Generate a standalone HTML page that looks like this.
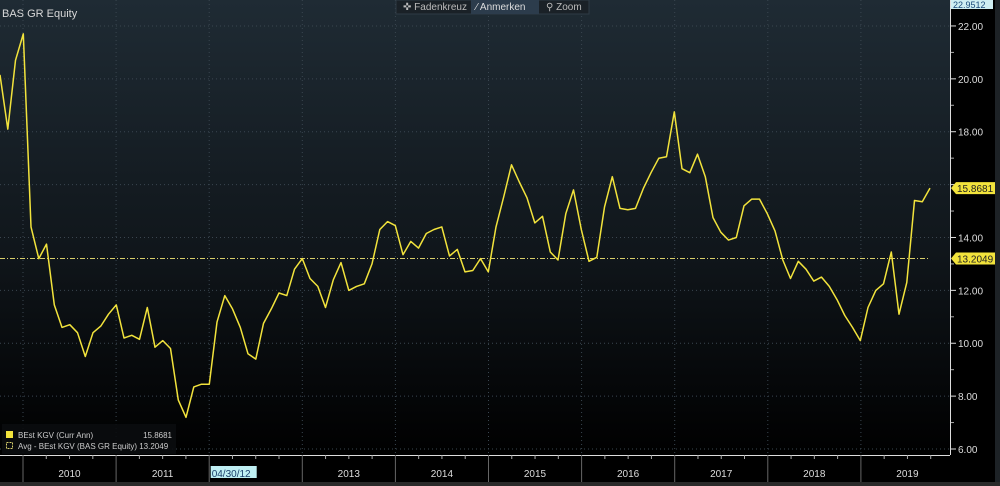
<!DOCTYPE html>
<html><head><meta charset="utf-8"><style>
html,body{margin:0;padding:0;background:#000;}
body{width:1000px;height:486px;overflow:hidden;font-family:"Liberation Sans",sans-serif;}
</style></head><body>
<svg id="chart" width="1000" height="486" viewBox="0 0 1000 486" xmlns="http://www.w3.org/2000/svg" style="display:block">
<defs>
<linearGradient id="bg" x1="0" y1="0" x2="0" y2="1">
<stop offset="0" stop-color="#1f2b34"/><stop offset="0.55" stop-color="#10161b"/><stop offset="1" stop-color="#000"/>
</linearGradient>
</defs>
<rect x="0" y="0" width="950" height="455" fill="url(#bg)"/>
<g id="grid"></g>
<g id="xaxis"></g>
<g id="yaxis"></g>
<g id="series"></g>
<rect x="0" y="482" width="1000" height="4" fill="#2a2a2a"/>
<rect x="995" y="0" width="5" height="482" fill="#1d2226"/>
<text x="2" y="17" fill="#d8d8d8" font-size="11">BAS GR Equity</text>
<g>
<rect x="396" y="0" width="193" height="14" fill="#1a2127" stroke="#2e3a44"/>
<rect x="471" y="0" width="68" height="14" fill="#2c3c4c"/>
<text x="403" y="10" fill="#bbb" font-size="10">✜ Fadenkreuz</text>
<text x="476" y="10" fill="#ddd" font-size="10">⁄ Anmerken</text>
<text x="546" y="10" fill="#bbb" font-size="10">⚲ Zoom</text>
</g>
<g>
<rect x="2" y="424" width="174" height="30" fill="#0a0c0e" opacity="0.9"/>
<rect x="6" y="431" width="7" height="7" fill="#f2e33c"/>
<text x="18" y="438" fill="#ccc" font-size="8">BEst KGV (Curr Ann)</text>
<text x="172" y="438" fill="#ccc" font-size="8" text-anchor="end">15.8681</text>
<rect x="6.5" y="442.5" width="6" height="6" fill="none" stroke="#d8cf6a" stroke-dasharray="2 1"/>
<text x="18" y="449" fill="#ccc" font-size="8">Avg - BEst KGV (BAS GR Equity) 13.2049</text>
</g>
</svg>
<script>
const yTicks=[6,8,10,12,14,16,18,20,22];
const yTickLabels=["6.00","8.00","10.00","12.00","14.00","","18.00","20.00","22.00"];
const years=["2010","2011","04/30/12","2013","2014","2015","2016","2017","2018","2019"];
const kgv=[20.15,18.1,20.7,21.7,14.4,13.2,13.75,11.45,10.6,10.7,10.4,9.5,10.4,10.65,11.1,11.45,10.2,10.3,10.15,11.35,9.85,10.1,9.8,7.85,7.2,8.35,8.45,8.45,10.8,11.8,11.3,
10.6,9.6,9.4,10.75,11.3,11.9,11.8,12.8,13.2,12.45,12.15,11.35,12.4,13.05,12.0,12.15,12.25,13.0,14.3,14.6,14.45,13.35,13.85,13.6,14.15,14.3,14.4,13.3,13.55,12.7,
12.75,13.2,12.7,14.4,15.55,16.75,16.1,15.5,14.55,14.8,13.45,13.15,14.9,15.8,14.3,13.1,13.25,15.15,16.3,15.1,15.05,15.1,15.85,16.45,17.0,17.05,18.75,16.6,16.45,17.15,
16.3,14.75,14.2,13.9,14.0,15.2,15.45,15.45,14.9,14.25,13.15,12.45,13.1,12.8,12.35,12.5,12.15,11.65,11.05,10.6,10.1,11.35,12.0,12.25,13.45,11.1,12.3,15.4,15.35,15.8681];
const avgValue=[13.2049];
const lastValue=[15.8681];
const topValue=["22.9512"];
const NS="http://www.w3.org/2000/svg";
function yScale(v){return 449-(v-6)*26.44;}
function xIdx(i){return i*7.75;}
function yearX(k){return 23+k*93.1;}
function mk(tag,attrs,parent){const e=document.createElementNS(NS,tag);for(const k in attrs)e.setAttribute(k,attrs[k]);parent.appendChild(e);return e;}
const grid=document.getElementById('grid'),xa=document.getElementById('xaxis'),ya=document.getElementById('yaxis'),se=document.getElementById('series');
yTicks.forEach((t,i)=>{
  const y=yScale(t);
  const g=mk('line',{x1:0,x2:950,y1:y,y2:y,stroke:'#3a4650','stroke-dasharray':'1 3'},grid);
  
  
  mk('line',{x1:950,x2:956,y1:y,y2:y,stroke:'#ddd'},ya);
  mk('line',{x1:950,x2:954,y1:yScale(t+1),y2:yScale(t+1),stroke:'#aaa'},ya);
  if(yTickLabels[i]){
    const tx=mk('text',{x:958,y:y+4,fill:'#ddd','font-size':'10'},ya);
    tx.textContent=yTickLabels[i];
    
    
  }
});
mk('line',{x1:950.5,x2:950.5,y1:0,y2:455,stroke:'#ddd'},ya);
mk('rect',{x:951,y:0,width:42,height:9,fill:'#cfeef2'},ya);
const tv=mk('text',{x:953,y:8,fill:'#1a4a7a','font-size':'9'},ya);tv.textContent=topValue[0];


mk('line',{x1:0,x2:950,y1:455.5,y2:455.5,stroke:'#ddd'},xa);
years.forEach((yr,k)=>{
  const x=yearX(k);
  mk('line',{x1:x,x2:x,y1:0,y2:455,stroke:'#3a4650','stroke-dasharray':'1 3'},grid);
  mk('line',{x1:x,x2:x,y1:455,y2:482,stroke:'#666'},xa);
  for(let q=1;q<4;q++){const qx=x+q*23.27;if(qx<950)mk('line',{x1:qx,x2:qx,y1:455,y2:459,stroke:'#aaa'},xa);}
  const cx=x+46.5;
  if(yr.indexOf('/')>0){mk('rect',{x:cx-45,y:466,width:46,height:12,fill:'#bfeff3'},xa);}
  const t=mk('text',{x:yr.indexOf('/')>0?cx-44:cx,y:477,fill:yr.indexOf('/')>0?'#1a3f6a':'#ddd','font-size':'10','text-anchor':yr.indexOf('/')>0?'start':'middle'},xa);
  t.textContent=yr;
  
  
});
const ay=yScale(avgValue[0]);
const avg=mk('line',{x1:0,x2:xIdx(kgv.length-1),y1:ay,y2:ay,stroke:'#d8cf6a','stroke-width':'1','stroke-dasharray':'5 2 1 2'},se);


const pts=kgv.map((v,i)=>xIdx(i).toFixed(1)+','+yScale(v).toFixed(1)).join(' ');
const pl=mk('polyline',{points:pts,fill:'none',stroke:'#f2e33c','stroke-width':'1.5','stroke-linejoin':'round'},se);


function tag(v,name){
  const y=yScale(v);
  mk('path',{d:`M951 ${y} L956 ${y-6} L995 ${y-6} L995 ${y+6} L956 ${y+6} Z`,fill:'#f2e33c'},se);
  const t=mk('text',{x:957,y:y+4,fill:'#222','font-size':'10'},se);
  t.textContent=v.toFixed(4);
  
  
}
tag(lastValue[0],'last-value-tag');
tag(avgValue[0],'average-value-tag');
</script>
</body></html>
